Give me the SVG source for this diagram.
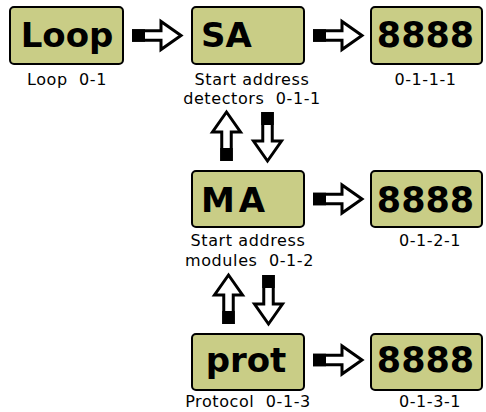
<svg xmlns="http://www.w3.org/2000/svg" xmlns:xlink="http://www.w3.org/1999/xlink" width="486" height="412" viewBox="0 0 486 412">
<style>
.box{fill:#c9cd86;stroke:#000;stroke-width:2}
.big{font-family:"DejaVu Sans",Verdana,sans-serif;font-weight:bold;font-size:34px;fill:#000}
.num{font-family:"DejaVu Sans",Verdana,sans-serif;font-weight:bold;font-size:35px;fill:#000;text-anchor:middle}
.lbl{font-family:"DejaVu Sans",Verdana,sans-serif;font-size:16px;letter-spacing:0.6px;fill:#000;text-anchor:middle}
.arr{fill:#fff;stroke:#000;stroke-width:3;stroke-linejoin:miter}
</style>
<defs>
<g id="arrow">
<path class="arr" d="M1.5,-4.75 H29 V-14 L49,0 L29,14 V4.75 H1.5 Z"/>
<rect x="0" y="-6.25" width="13" height="12.5" fill="#000"/>
</g>
</defs>
<g id="connectors">
<use xlink:href="#arrow" href="#arrow" transform="translate(132,35.5)"/>
<use xlink:href="#arrow" href="#arrow" transform="translate(313,35.5)"/>
<use xlink:href="#arrow" href="#arrow" transform="translate(313,199)"/>
<use xlink:href="#arrow" href="#arrow" transform="translate(313,360)"/>
<use xlink:href="#arrow" href="#arrow" transform="translate(226.5,161) rotate(-90)"/>
<use xlink:href="#arrow" href="#arrow" transform="translate(267.5,112) rotate(90)"/>
<use xlink:href="#arrow" href="#arrow" transform="translate(228.5,324) rotate(-90)"/>
<use xlink:href="#arrow" href="#arrow" transform="translate(268.5,275) rotate(90)"/>
</g>
<g id="loop">
<rect class="box" x="10" y="7" width="113" height="57" rx="4"/>
<text class="big" x="67" y="47" text-anchor="middle">Loop</text>
<text class="lbl" x="67" y="85" xml:space="preserve">Loop  0-1</text>
</g>
<g id="sa">
<rect class="box" x="192" y="7" width="112" height="57" rx="4"/>
<text class="big" x="201" y="47">SA</text>
<text class="lbl" x="252" y="84.5">Start address</text>
<text class="lbl" x="252" y="104" xml:space="preserve">detectors  0-1-1</text>
</g>
<g id="d111">
<rect class="box" x="371" y="7" width="111" height="57" rx="4"/>
<text class="num" x="425.5" y="47">8888</text>
<text class="lbl" x="425.5" y="85">0-1-1-1</text>
</g>
<g id="ma">
<rect class="box" x="192" y="171" width="112" height="56" rx="4"/>
<text class="big" x="201" y="212" textLength="64" lengthAdjust="spacing" xml:space="preserve">M A</text>
<text class="lbl" x="248" y="246">Start address</text>
<text class="lbl" x="249.5" y="266" xml:space="preserve">modules  0-1-2</text>
</g>
<g id="d121">
<rect class="box" x="371" y="171" width="111" height="56" rx="4"/>
<text class="num" x="425.5" y="212">8888</text>
<text class="lbl" x="430" y="246">0-1-2-1</text>
</g>
<g id="prot">
<rect class="box" x="192" y="334" width="112" height="56" rx="4"/>
<text class="big" x="246" y="372" text-anchor="middle">prot</text>
<text class="lbl" x="248" y="407" xml:space="preserve">Protocol  0-1-3</text>
</g>
<g id="d131">
<rect class="box" x="371" y="334" width="111" height="56" rx="4"/>
<text class="num" x="425.5" y="372">8888</text>
<text class="lbl" x="430" y="407">0-1-3-1</text>
</g>
</svg>
